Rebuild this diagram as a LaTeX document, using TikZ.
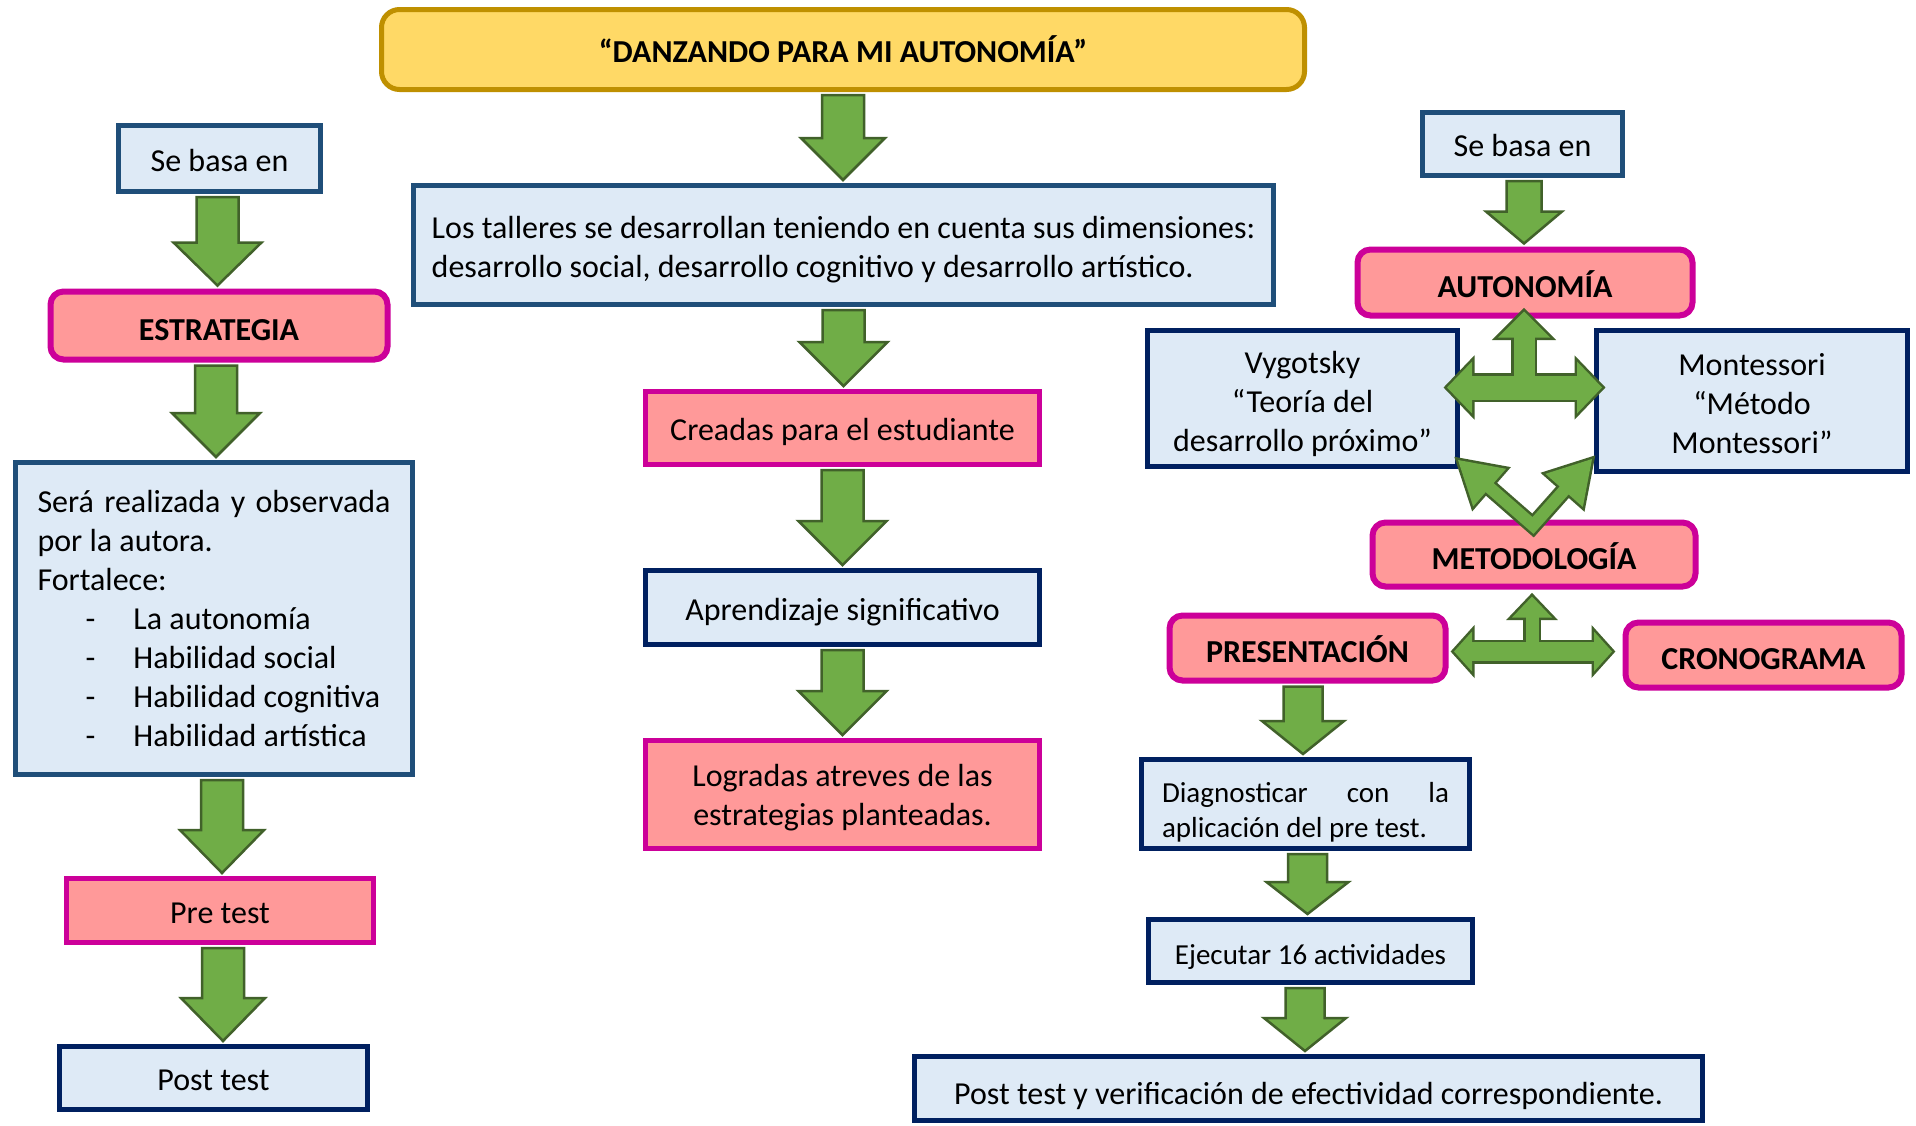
\documentclass[tikz,border=0pt]{standalone}
\usepackage{fontspec}
\setmainfont{Carlito}
\usetikzlibrary{calc}
\definecolor{lblue}{HTML}{DEEAF6}
\definecolor{bsteel}{HTML}{1F4E79}
\definecolor{bnavy}{HTML}{002060}
\definecolor{pinkf}{HTML}{FF9999}
\definecolor{magb}{HTML}{CC0099}
\definecolor{goldf}{HTML}{FFD966}
\definecolor{goldb}{HTML}{BF9000}
\definecolor{ggreen}{HTML}{70AD47}
\definecolor{gdark}{HTML}{41612A}
\newcommand\boxnode[7]{\node[#2, minimum width={#5-#3-5}, minimum height={#6-#4-5}] (#1) at ({(#3+#5)/2},{(#4+#6)/2}) {#7};}
\newcommand\stt[2]{\rule[-#2pt]{0pt}{\dimexpr#1pt+#2pt\relax}}
% from, to, head length, shaft half width, head half width, x shift
\newcommand\blockdown[6]{%
 \filldraw[garrow] let \p1=($(#1.south)+(#6,0)$), \p2=(#2.north) in
  ({\x1-#4pt},{\y1-3pt}) -- ({\x1+#4pt},{\y1-3pt}) -- ({\x1+#4pt},{\y2+3pt+#3pt}) -- ({\x1+#5pt},{\y2+3pt+#3pt}) -- ({\x1},{\y2+3pt}) -- ({\x1-#5pt},{\y2+3pt+#3pt}) -- ({\x1-#4pt},{\y2+3pt+#3pt}) -- cycle;}
\newcommand\headD[3]{\filldraw[gdark, line width=5pt, line join=miter] (#1) -- ($(#2)!#3!90:(#1)$) -- ($(#2)!#3!-90:(#1)$) -- cycle;}
\newcommand\headG[3]{\fill[ggreen] (#1) -- ($(#2)!#3!90:(#1)$) -- ($(#2)!#3!-90:(#1)$) -- cycle;}
\begin{document}
\begin{tikzpicture}[x=1pt,y=-1pt,
  every node/.style={font=\fontsize{32}{39}\selectfont, text=black},
  sl/.style={text height=31pt, text depth=6pt},
  bbox/.style={draw=bsteel, fill=lblue, line width=5pt, inner sep=0pt},
  nbox/.style={draw=bnavy, fill=lblue, line width=5pt, inner sep=0pt},
  pbox/.style={draw=magb, fill=pinkf, line width=5pt, inner sep=0pt},
  prbox/.style={draw=magb, fill=pinkf, line width=6pt, inner sep=0pt, rounded corners=13pt, text height=31pt, text depth=1.6pt, font=\fontsize{32}{39}\selectfont\bfseries},
  tbox/.style={draw=goldb, fill=goldf, line width=5pt, inner sep=0pt, rounded corners=18pt, text height=30pt, text depth=4pt, font=\fontsize{32}{39}\selectfont\bfseries},
  garrow/.style={fill=ggreen, draw=gdark, line width=2.5pt, line join=miter}]
\fill[white] (0,0) rectangle (1916,1125);
\useasboundingbox (0,0) rectangle (1916,1125);
% title
\boxnode{title}{tbox}{379}{7}{1307}{92}{“DANZANDO PARA MI AUTONOMÍA”}
% left column
\boxnode{lsb}{bbox, sl}{116}{123}{323}{194}{Se basa en}
\boxnode{estr}{prbox}{48}{289}{390}{362}{ESTRATEGIA}
\boxnode{lbox}{bbox, text width=353pt, align=justify}{13}{460}{415}{777}{\noindent Será realizada y observada\linebreak por la autora.\\
Fortalece:\\
\hspace*{48pt}\makebox[48pt][l]{-}La autonomía\\
\hspace*{48pt}\makebox[48pt][l]{-}Habilidad social\\
\hspace*{48pt}\makebox[48pt][l]{-}Habilidad cognitiva\\
\hspace*{48pt}\makebox[48pt][l]{-}Habilidad artística}
\boxnode{pre}{pbox, sl}{64}{876}{376}{945}{Pre test}
\boxnode{lpost}{nbox, sl}{57}{1044}{370}{1112}{Post test}
% middle column
\boxnode{tall}{bbox, align=left}{411}{183}{1276}{307}{\stt{32.5}{0}Los talleres se desarrollan teniendo en cuenta sus dimensiones:\\ desarrollo social, desarrollo cognitivo y desarrollo artístico.\stt{0}{7}}
\boxnode{crea}{pbox, sl}{643}{389}{1042}{467}{Creadas para el estudiante}
\boxnode{apr}{nbox, sl}{643}{568}{1042}{647}{Aprendizaje significativo}
\boxnode{logr}{pbox, align=center}{643}{738}{1042}{851}{\stt{31}{0}Logradas atreves de las\\ estrategias planteadas.\stt{0}{8}}
% right column
\boxnode{rsb}{bbox, sl}{1420}{110}{1625}{178}{Se basa en}
\boxnode{aut}{prbox}{1355}{247}{1695}{318}{AUTONOMÍA}
\boxnode{vyg}{nbox, align=center}{1145}{328}{1460}{469}{\stt{34}{0}Vygotsky\\ “Teoría del\\ desarrollo próximo”\stt{0}{7}}
\boxnode{mon}{nbox, align=center}{1594}{328}{1910}{474}{\stt{34}{0}Montessori\\ “Método\\ Montessori”\stt{0}{7}}
\boxnode{met}{prbox}{1370}{520}{1698}{589}{METODOLOGÍA}
\boxnode{pres}{prbox}{1167}{613}{1448}{683}{PRESENTACIÓN}
\boxnode{cron}{prbox}{1623}{620}{1904}{690}{CRONOGRAMA}
\boxnode{diag}{nbox, text width=287pt, align=justify, font=\fontsize{29}{35}\selectfont}{1139}{757}{1472}{851}{\noindent\stt{38}{0}Diagnosticar con la\linebreak aplicación del pre test.\stt{0}{7}}
\boxnode{ejec}{nbox, text height=30pt, text depth=4pt, font=\fontsize{29}{35}\selectfont}{1146}{917}{1475}{985}{Ejecutar 16 actividades}
\boxnode{pver}{nbox, text height=36pt, text depth=4pt}{912}{1054}{1705}{1123}{Post test y verificación de efectividad correspondiente.}
% straight block arrows
\blockdown{lsb}{estr}{43}{21}{44}{-2}
\blockdown{estr}{lbox}{44}{21}{44}{-3}
\blockdown{lbox}{pre}{43}{21}{42}{8}
\blockdown{pre}{lpost}{43}{21}{42}{3}
\blockdown{title}{tall}{42}{21}{42}{0}
\blockdown{tall}{crea}{44}{21}{44}{0}
\blockdown{crea}{apr}{44}{21}{44}{0}
\blockdown{apr}{logr}{44}{21}{44}{0}
\blockdown{rsb}{aut}{32}{17.5}{38}{1.5}
\blockdown{pres}{diag}{33}{19.5}{41}{-4.5}
\blockdown{diag}{ejec}{32}{19.5}{41}{2}
\blockdown{ejec}{pver}{33}{19.5}{41}{-5.5}
% upper three-way arrow
\coordinate (t1c) at ($(aut.south)+(-1,69)$);
\coordinate (t1u) at ($(t1c)+(0,-76)$);
\coordinate (t1ub) at ($(t1c)+(0,-50)$);
\coordinate (t1l) at ($(t1c)+(-77,0)$);
\coordinate (t1lb) at ($(t1c)+(-52,0)$);
\coordinate (t1r) at ($(t1c)+(78,0)$);
\coordinate (t1rb) at ($(t1c)+(53,0)$);
\draw[gdark, line width=29pt] (t1lb) -- (t1rb);
\draw[gdark, line width=26pt] (t1c) -- (t1ub);
\headD{t1u}{t1ub}{26pt}\headD{t1l}{t1lb}{26pt}\headD{t1r}{t1rb}{26pt}
\draw[ggreen, line width=24pt] ($(t1lb)!4pt!(t1l)$) -- ($(t1rb)!4pt!(t1r)$);
\draw[ggreen, line width=21pt] (t1c) -- ($(t1ub)!4pt!(t1u)$);
\headG{t1u}{t1ub}{26pt}\headG{t1l}{t1lb}{26pt}\headG{t1r}{t1rb}{26pt}
% V arrow
\coordinate (vL) at ($(vyg.south east)+(-2,-9)$);
\coordinate (vR) at ($(mon.south west)+(-2,-15)$);
\coordinate (vB) at ($(met.north)+(-1,6)$);
\coordinate (vLb) at ($(vL)!42pt!(vB)$);
\coordinate (vRb) at ($(vR)!42pt!(vB)$);
\draw[gdark, line width=17pt, line join=miter] (vLb) -- (vB) -- (vRb);
\headD{vL}{vLb}{25pt}\headD{vR}{vRb}{25pt}
\draw[ggreen, line width=12pt, line join=miter] ($(vLb)!4pt!(vL)$) -- (vB) -- ($(vRb)!4pt!(vR)$);
\headG{vL}{vLb}{25pt}\headG{vR}{vRb}{25pt}
% lower three-way arrow
\coordinate (t2c) at ($(met.south)+(-2,62)$);
\coordinate (t2u) at ($(t2c)+(0,-55)$);
\coordinate (t2ub) at ($(t2c)+(0,-34)$);
\coordinate (t2l) at ($(t2c)+(-78,0)$);
\coordinate (t2lb) at ($(t2c)+(-60,0)$);
\coordinate (t2r) at ($(t2c)+(80,0)$);
\coordinate (t2rb) at ($(t2c)+(62,0)$);
\draw[gdark, line width=24pt] (t2lb) -- (t2rb);
\draw[gdark, line width=18pt] (t2c) -- (t2ub);
\headD{t2u}{t2ub}{20pt}\headD{t2l}{t2lb}{20pt}\headD{t2r}{t2rb}{20pt}
\draw[ggreen, line width=19pt] ($(t2lb)!4pt!(t2l)$) -- ($(t2rb)!4pt!(t2r)$);
\draw[ggreen, line width=13pt] (t2c) -- ($(t2ub)!4pt!(t2u)$);
\headG{t2u}{t2ub}{20pt}\headG{t2l}{t2lb}{20pt}\headG{t2r}{t2rb}{20pt}
\end{tikzpicture}
\end{document}
